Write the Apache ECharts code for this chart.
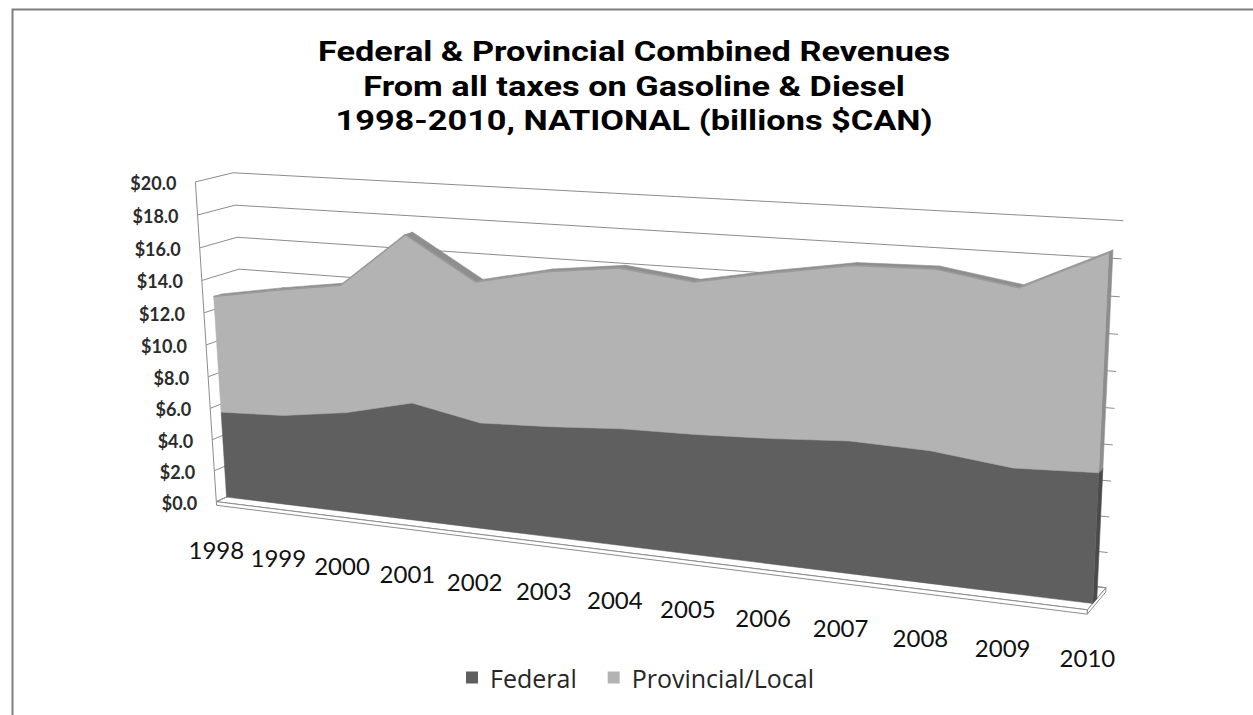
<!DOCTYPE html>
<html>
<head>
<meta charset="utf-8">
<title>Federal &amp; Provincial Combined Revenues</title>
<script src="https://cdn.jsdelivr.net/npm/echarts@6/dist/echarts.min.js"></script>
<style>
html, body { margin: 0; padding: 0; background: #ffffff; }
#chart { width: 1253px; height: 715px; }
</style>
</head>
<body>
<div id="chart"></div>
<script>
// Revenues from all taxes on gasoline & diesel, billions of Canadian dollars
const years = ['1998', '1999', '2000', '2001', '2002', '2003', '2004', '2005', '2006', '2007', '2008', '2009', '2010'];
const federal = [5.5, 5.7, 6.3, 7.3, 6.5, 6.7, 7.0, 7.1, 7.3, 7.6, 7.5, 7.0, 7.2];
const provincial = [7.3, 7.8, 7.8, 10.1, 8.4, 9.1, 9.3, 8.7, 9.3, 9.7, 9.9, 9.7, 11.6];
const yTickValues = [0, 2, 4, 6, 8, 10, 12, 14, 16, 18, 20];
const yTickLabels = ['$0.0', '$2.0', '$4.0', '$6.0', '$8.0', '$10.0', '$12.0', '$14.0', '$16.0', '$18.0', '$20.0'];
const seriesNames = ['Federal', 'Provincial/Local'];
const titleLines = [
  'Federal & Provincial Combined Revenues',
  'From all taxes on Gasoline & Diesel',
  '1998-2010, NATIONAL (billions $CAN)'
];

// Perspective view of the chart box: [category 0..1, value 0..1, depth 0..1, screen x, screen y]
const VIEW_POINTS = [
  [0, 1, 0, 195, 182], [0, 0.5, 0, 206, 344], [0, 0, 0, 217, 502],
  [0.25, 0, 0, 408, 526], [0.5, 0, 0, 614, 551], [0.75, 0, 0, 840, 579], [1, 0, 0, 1088, 610],
  [0, 1, 1, 235, 172], [0, 0.7, 1, 237, 270],
  [1, 1, 1, 1123, 221], [1, 0.8, 1, 1120, 297], [1, 0.4, 1, 1113, 445], [1, 0, 1, 1106, 587]
];
// depth slot occupied by the stacked areas, and floor slab thickness
const SERIES_DEPTH = [0.28, 0.5];
const FLOOR_THICK = 0.012;

// least-squares fit of a 3x4 projection from the reference points
function fitView(points) {
  const cu = 640, cv = 400, s = 500, n = 11;
  const M = Array.from({ length: n }, () => new Array(n).fill(0));
  const r = new Array(n).fill(0);
  const addRow = (row, rhs) => {
    for (let i = 0; i < n; i++) {
      r[i] += row[i] * rhs;
      for (let j = 0; j < n; j++) M[i][j] += row[i] * row[j];
    }
  };
  points.forEach(([X, Y, Z, u0, v0]) => {
    const u = (u0 - cu) / s, v = (v0 - cv) / s;
    addRow([X, Y, Z, 1, 0, 0, 0, 0, -u * X, -u * Y, -u * Z], u);
    addRow([0, 0, 0, 0, X, Y, Z, 1, -v * X, -v * Y, -v * Z], v);
  });
  for (let c = 0; c < n; c++) {
    let piv = c;
    for (let i = c + 1; i < n; i++) if (Math.abs(M[i][c]) > Math.abs(M[piv][c])) piv = i;
    [M[c], M[piv]] = [M[piv], M[c]];
    [r[c], r[piv]] = [r[piv], r[c]];
    for (let i = c + 1; i < n; i++) {
      const f = M[i][c] / M[c][c];
      for (let j = c; j < n; j++) M[i][j] -= f * M[c][j];
      r[i] -= f * r[c];
    }
  }
  const p = new Array(n).fill(0);
  for (let i = n - 1; i >= 0; i--) {
    let acc = r[i];
    for (let j = i + 1; j < n; j++) acc -= M[i][j] * p[j];
    p[i] = acc / M[i][i];
  }
  return { p, cu, cv, s };
}
const view = fitView(VIEW_POINTS);

function project(X, Y, Z) {
  const p = view.p;
  const w = p[8] * X + p[9] * Y + p[10] * Z + 1;
  return [
    (p[0] * X + p[1] * Y + p[2] * Z + p[3]) / w * view.s + view.cu,
    (p[4] * X + p[5] * Y + p[6] * Z + p[7]) / w * view.s + view.cv
  ];
}

const LINE = '#8c8c8c';
const lastCat = years.length - 1;
const topValue = yTickValues[yTickValues.length - 1];

// category/value -> unit box coordinates through the (hidden) cartesian axes
function normalizer(api) {
  const o = api.coord([0, 0]);
  const e = api.coord([lastCat, topValue]);
  return (cat, val) => {
    const c = api.coord([cat, val]);
    return [(c[0] - o[0]) / (e[0] - o[0]), (c[1] - o[1]) / (e[1] - o[1])];
  };
}
const poly = (pts, fill, stroke, lw) => ({
  type: 'polygon', shape: { points: pts },
  style: { fill: fill, stroke: stroke || null, lineWidth: lw || 0 }
});
const line = (pts, stroke, lw) => ({
  type: 'polyline', shape: { points: pts },
  style: { fill: null, stroke: stroke, lineWidth: lw || 1 }
});

function renderFrame(params, api) {
  if (params.dataIndex !== 0) return null;
  const norm = normalizer(api);
  const kids = [];
  const ft = FLOOR_THICK;
  // floor slab
  kids.push(poly([project(0, 0, 0), project(1, 0, 0), project(1, 0, 1), project(0, 0, 1)], '#ffffff', LINE, 1));
  kids.push(poly([project(0, 0, 0), project(1, 0, 0), project(1, -ft, 0), project(0, -ft, 0)], '#ffffff', LINE, 1));
  kids.push(poly([project(1, 0, 0), project(1, 0, 1), project(1, -ft, 1), project(1, -ft, 0)], '#ffffff', LINE, 1));
  // gridlines across the side wall and the back wall
  yTickValues.forEach((t) => {
    const wy = norm(0, t)[1];
    kids.push(line([project(0, wy, 0), project(0, wy, 1), project(1, wy, 1)], LINE, 1));
  });
  // front edge of the side wall (value axis)
  kids.push(line([project(0, 0, 0), project(0, 1, 0)], LINE, 1));
  // value labels
  yTickValues.forEach((t, i) => {
    const q = project(0, norm(0, t)[1], 0);
    kids.push({
      type: 'text', x: q[0] - 19, y: q[1] + 1,
      style: { text: yTickLabels[i], fill: '#2b2b2b', font: 'bold 18px Lato', align: 'right', verticalAlign: 'middle' }
    });
  });
  // category labels under the front edge of the floor
  years.forEach((y, k) => {
    const q = project(norm(k, 0)[0], 0, 0);
    kids.push({
      type: 'text', x: q[0], y: q[1] + 48,
      style: { text: y, fill: '#111111', font: '24px Lato', align: 'center', verticalAlign: 'middle' }
    });
  });
  return { type: 'group', children: kids };
}

// one stacked band: upper surface, right end and front face
function bandShapes(api, lower, upper, colors) {
  const norm = normalizer(api);
  const [z0, z1] = SERIES_DEPTH;
  const n = years.length;
  const lo = [], hi = [];
  for (let k = 0; k < n; k++) {
    lo.push(norm(k, lower[k]));
    hi.push(norm(k, upper[k]));
  }
  const kids = [];
  for (let k = 0; k < n - 1; k++) {
    kids.push(poly([
      project(hi[k][0], hi[k][1], z0), project(hi[k + 1][0], hi[k + 1][1], z0),
      project(hi[k + 1][0], hi[k + 1][1], z1), project(hi[k][0], hi[k][1], z1)
    ], colors.top, colors.top, 0.6));
  }
  const l = lo[n - 1], h = hi[n - 1];
  kids.push(poly([project(l[0], l[1], z0), project(h[0], h[1], z0), project(h[0], h[1], z1), project(l[0], l[1], z1)], colors.side, colors.side, 0.6));
  const front = [];
  for (let k = 0; k < n; k++) front.push(project(lo[k][0], lo[k][1], z0));
  for (let k = n - 1; k >= 0; k--) front.push(project(hi[k][0], hi[k][1], z0));
  kids.push(poly(front, colors.front, colors.front, 0.5));
  if (colors.edge) {
    kids.push(line(hi.map((q) => project(q[0], q[1], z0)), colors.edge, 1.5));
  }
  return kids;
}

const totals = federal.map((v, i) => v + provincial[i]);
const zeros = federal.map(() => 0);

// title lines: condensed face widened to the chart's title width
const TITLE_FONT = 'bold 28px Roboto';
const TITLE_WIDTH = 632;
const measureCtx = document.createElement('canvas').getContext('2d');
measureCtx.font = TITLE_FONT;
const titleScale = TITLE_WIDTH / measureCtx.measureText(titleLines[0]).width;
const titleGraphics = titleLines.map((t, i) => ({
  type: 'text', x: 634, y: 52 + i * 34.5, scaleX: titleScale,
  style: { text: t, x: 0, y: 0, font: TITLE_FONT, fill: '#000000', align: 'center', verticalAlign: 'middle' }
}));

const chart = echarts.init(document.getElementById('chart'), null, { renderer: 'svg' });
chart.setOption({
  animation: false,
  backgroundColor: '#ffffff',
  legend: {
    data: seriesNames, left: 461, top: 660, itemWidth: 12, itemHeight: 12, itemGap: 31, icon: 'rect',
    selectedMode: false,
    textStyle: { fontFamily: 'Open Sans', fontSize: 25, color: '#262626', padding: [0, 0, 0, 7] }
  },
  graphic: [
    { type: 'rect', left: 10, top: 7, shape: { width: 1260, height: 720 }, style: { fill: null, stroke: '#7f7f7f', lineWidth: 2 } }
  ].concat(titleGraphics),
  grid: { left: 0, top: 0, width: 1200, height: 600, show: false },
  xAxis: { type: 'category', data: years, boundaryGap: false, show: false },
  yAxis: { type: 'value', min: 0, max: 20, interval: 2, show: false },
  series: [
    {
      type: 'custom', name: 'frame', clip: false, silent: true, z: 1,
      data: years.map((y, i) => [i, 0]), renderItem: renderFrame
    },
    {
      type: 'custom', name: 'Federal', clip: false, z: 2,
      itemStyle: { color: '#5f5f5f' },
      data: federal.map((v, i) => [i, v]),
      renderItem: (params, api) => params.dataIndex !== 0 ? null :
        { type: 'group', children: bandShapes(api, zeros, federal, { front: '#5f5f5f', top: '#4f4f4f', side: '#4a4a4a' }) }
    },
    {
      type: 'custom', name: 'Provincial/Local', clip: false, z: 3,
      itemStyle: { color: '#b3b3b3' },
      data: provincial.map((v, i) => [i, v]),
      renderItem: (params, api) => params.dataIndex !== 0 ? null :
        { type: 'group', children: bandShapes(api, federal, totals, { front: '#b3b3b3', top: '#8e8e8e', side: '#8e8e8e', edge: '#9a9a9a' }) }
    }
  ]
});
</script>
</body>
</html>
